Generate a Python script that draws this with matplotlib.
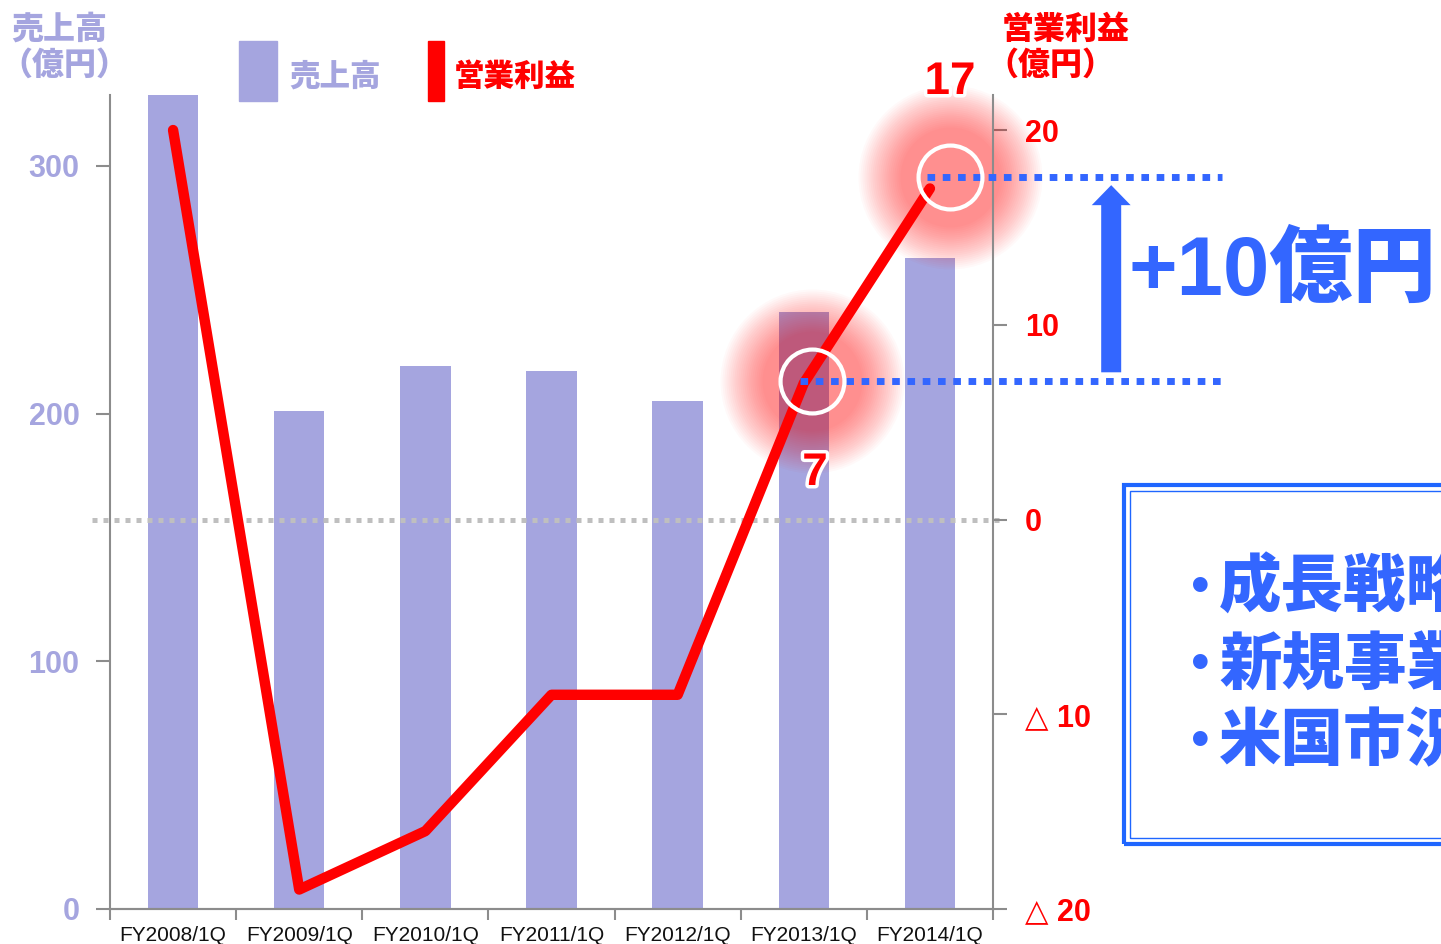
import numpy as np
import matplotlib
matplotlib.use("Agg")
import matplotlib.pyplot as plt
import matplotlib.patheffects as pe
from matplotlib.patches import Rectangle

plt.rcParams['font.family'] = ['Liberation Sans', 'DejaVu Sans', 'Noto Sans CJK JP']

# data
categories = ['FY2008/1Q', 'FY2009/1Q', 'FY2010/1Q', 'FY2011/1Q',
              'FY2012/1Q', 'FY2013/1Q', 'FY2014/1Q']
sales = [330, 201, 219, 217, 205, 241, 263]          # 売上高 (億円), left axis
profit = [20, -19, -16, -9, -9, 7, 17]               # 営業利益 (億円), right axis
left_ticks = [0, 100, 200, 300]
right_ticks = [-20, -10, 0, 10, 20]
right_labels = ['△ 20', '△ 10', '0', '10', '20']
bullets = ['成長戦略', '新規事業', '米国市況']

LAV = '#A5A5DF'
RED = '#FF0000'
BLUE = '#3366FF'
GREY = '#8C8C8C'
CJK = ['Noto Sans CJK JP', 'DejaVu Sans']

W, H = 1441, 944


def fx(px):
    return px / W


def fy(py):
    return 1 - py / H


fig = plt.figure(figsize=(W / 100, H / 100), dpi=100)
ax = fig.add_axes([fx(110), fy(909), (993 - 110) / W, (909 - 95) / H])
ax2 = ax.twinx()

x = np.arange(len(categories))
ax.bar(x, sales, width=0.4, color=LAV, zorder=1)
ax.set_xlim(-0.5, len(categories) - 0.5)
ax.set_ylim(0, 328.6)
ax2.set_ylim(-20, 21.8)

# x ticks between categories, labels at centres
ax.set_xticks(np.arange(-0.5, len(categories)), labels=[''] * (len(categories) + 1))
ax.set_xticks(x, labels=categories, minor=True)
ax.tick_params(axis='x', which='major', length=8, width=1.5, color=GREY)
ax.tick_params(axis='x', which='minor', length=0, labelsize=15, pad=12, labelcolor='#111111')

ax.set_yticks(left_ticks)
ax.tick_params(axis='y', length=10, width=1.5, color=GREY, labelcolor=LAV,
               labelsize=22, pad=12)
ax2.set_yticks(right_ticks, labels=right_labels)
ax2.tick_params(axis='y', length=10, width=1.5, color=GREY, labelcolor=RED,
                labelsize=22, pad=13)
for lab in ax.get_yticklabels() + ax2.get_yticklabels():
    lab.set_fontweight('bold')

for a in (ax, ax2):
    a.spines['top'].set_visible(False)
    for s in ('left', 'right', 'bottom'):
        a.spines[s].set_color(GREY)
        a.spines[s].set_linewidth(1.5)
ax.spines['right'].set_visible(False)
ax2.spines['left'].set_visible(False)

# zero line of operating profit
ax2.plot([-0.64, 6.56], [0, 0], color='#BFBFBF', lw=3.6, dashes=(1, 1.2),
         clip_on=False, zorder=1)

# red glow behind highlighted points
glow_x = [6.159, 5.063]
glow_y = [17.58, 7.09]
for r in np.linspace(92, 50, 22):
    ax2.plot(glow_x, glow_y, 'o', ms=2 * r * 0.72, color=RED, alpha=0.024,
             mec='none', clip_on=False, zorder=2)

ax2.plot(x, profit, color=RED, lw=7.5, solid_capstyle='round',
         solid_joinstyle='round', zorder=3)

# blue dotted reference lines
ax2.plot([5.976, 8.317], [17.58, 17.58], color=BLUE, lw=5, dashes=(1.1, 1.1),
         clip_on=False, zorder=4)
ax2.plot([4.97, 8.317], [7.09, 7.09], color=BLUE, lw=5, dashes=(1.1, 1.1),
         clip_on=False, zorder=4)

ax2.plot(glow_x, glow_y, 'o', ms=46, mfc='none', mec='white', mew=3,
         clip_on=False, zorder=5)

ax2.annotate('', xy=(7.437, 17.17), xytext=(7.437, 7.56),
             arrowprops=dict(arrowstyle='simple,head_length=0.72,head_width=1.4,tail_width=0.72',
                             color=BLUE, lw=0, mutation_scale=20, shrinkA=0, shrinkB=0),
             annotation_clip=False, zorder=6)

# value labels
stroke = [pe.withStroke(linewidth=5, foreground='white')]
fig.text(fx(950), fy(82), '17', ha='center', va='center', fontsize=33,
         fontweight='bold', color=RED, path_effects=stroke)
fig.text(fx(815), fy(473), '7', ha='center', va='center', fontsize=33,
         fontweight='bold', color=RED, path_effects=stroke)

fig.text(fx(1128), fy(272), '+10億円', ha='left', va='center', fontsize=60,
         fontweight='black', color=BLUE, family=['Liberation Sans', 'Noto Sans CJK JP'])

# axis titles
fig.text(fx(11), fy(29), '売上高', ha='left', va='center', fontsize=23,
         fontweight='black', color=LAV, family=CJK)
fig.text(fx(0), fy(65), '（億円）', ha='left', va='center', fontsize=23,
         fontweight='black', color=LAV, family=CJK)
fig.text(fx(1002), fy(29), '営業利益', ha='left', va='center', fontsize=23,
         fontweight='black', color=RED, family=CJK)
fig.text(fx(986), fy(65), '（億円）', ha='left', va='center', fontsize=23,
         fontweight='black', color=RED, family=CJK)

# legend
fig.patches.append(Rectangle((fx(239), fy(101)), 38 / W, 60 / H, color=LAV,
                             transform=fig.transFigure))
fig.text(fx(289), fy(76), '売上高', ha='left', va='center', fontsize=22,
         fontweight='black', color=LAV, family=CJK)
fig.patches.append(Rectangle((fx(428), fy(101)), 16 / W, 60 / H, color=RED,
                             transform=fig.transFigure))
fig.text(fx(454), fy(76), '営業利益', ha='left', va='center', fontsize=22,
         fontweight='black', color=RED, family=CJK)

# box with bullet points
fig.patches.append(Rectangle((fx(1124), fy(844)), (1470 - 1124) / W, (844 - 485) / H,
                             fill=False, ec='#1F66FF', lw=3, transform=fig.transFigure))
fig.patches.append(Rectangle((fx(1130), fy(838)), (1470 - 1130) / W, (838 - 491) / H,
                             fill=False, ec='#1F66FF', lw=1, transform=fig.transFigure))
for i, b in enumerate(bullets):
    yy = fy(588 + 77 * i)
    fig.text(fx(1200), yy, '•', ha='center', va='center', fontsize=30,
             fontweight='bold', color=BLUE, family=['DejaVu Sans'])
    fig.text(fx(1219), yy, b, ha='left', va='center', fontsize=45,
             fontweight='black', color=BLUE, family=CJK)

fig.savefig('out.png', dpi=100)
